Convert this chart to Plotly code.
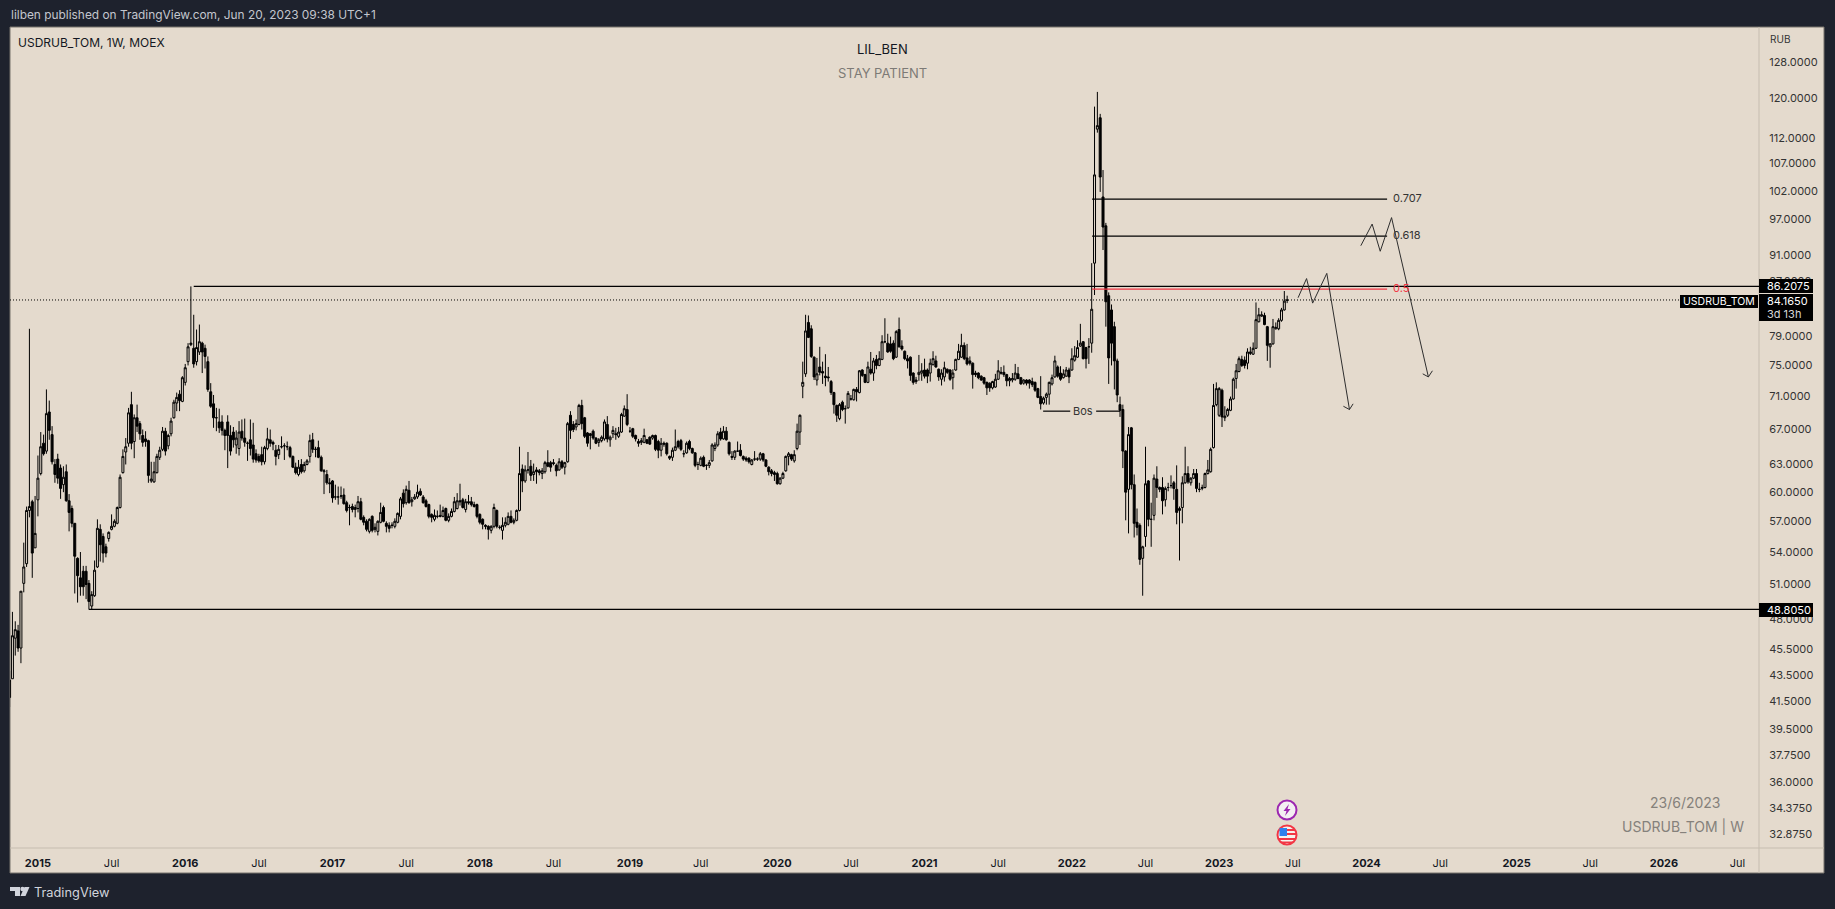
import pandas as pd
import plotly.graph_objects as go

# weekly USDRUB_TOM candles, last bar is the week of 2023-06-19
opens = [
    41.8, 43.2, 46.4, 47.0, 45.6, 51.1, 52.9, 58.1, 59.0, 54.4,
    59.2, 62.0, 65.4, 64.5, 69.1, 66.4, 63.0, 63.6, 62.6, 60.8,
    62.2, 59.1, 58.3, 56.8, 53.4, 51.6, 52.2, 52.2, 51.1, 49.1,
    50.0, 52.6, 56.2, 55.5, 54.5, 55.3, 56.2, 56.5, 56.8, 58.4,
    62.1, 64.4, 65.4, 70.0, 65.6, 68.4, 67.7, 66.3, 65.9, 65.7,
    61.2, 61.1, 62.1, 63.8, 64.7, 66.8, 65.1, 66.5, 68.4, 70.2,
    71.3, 70.4, 72.8, 75.5, 77.8, 77.3, 75.5, 76.8, 78.0, 77.3,
    75.5, 71.6, 70.1, 68.4, 67.9, 67.9, 66.9, 67.9, 66.3, 66.7,
    65.2, 64.8, 66.8, 66.0, 65.4, 65.8, 65.2, 64.2, 63.9, 64.1,
    63.3, 64.8, 65.8, 65.5, 64.6, 64.1, 65.0, 65.1, 65.0, 64.9,
    63.9, 62.7, 61.9, 63.0, 62.3, 63.0, 63.9, 65.8, 64.7, 64.9,
    63.8, 62.2, 61.9, 61.0, 61.2, 59.5, 59.5, 59.6, 59.7, 58.9,
    58.4, 58.5, 58.2, 58.3, 59.0, 57.4, 57.0, 56.0, 57.5, 56.2,
    56.0, 56.9, 58.4, 56.8, 56.6, 56.6, 56.5, 56.9, 57.5, 59.9,
    58.9, 60.2, 59.0, 59.3, 59.5, 60.1, 59.5, 59.1, 58.7, 57.7,
    57.2, 57.5, 57.6, 57.5, 58.3, 57.1, 57.5, 58.0, 58.3, 59.1,
    59.2, 58.2, 59.0, 59.0, 58.7, 58.7, 57.7, 57.2, 56.6, 56.5,
    56.1, 56.5, 58.1, 56.4, 56.1, 56.6, 56.7, 57.5, 56.9, 57.1,
    58.1, 62.5, 61.2, 62.4, 62.8, 61.9, 62.4, 62.3, 62.0, 62.2,
    63.2, 63.2, 63.2, 62.9, 62.4, 63.3, 62.7, 63.3, 68.7, 67.6,
    67.3, 67.6, 69.9, 68.4, 66.6, 66.5, 66.8, 66.0, 65.5, 65.7,
    65.9, 67.6, 65.8, 66.5, 66.5, 66.2, 66.7, 68.6, 69.4, 66.8,
    67.1, 66.3, 65.6, 65.5, 65.5, 65.8, 66.1, 66.0, 66.3, 65.6,
    64.6, 65.4, 65.4, 63.9, 63.8, 64.6, 65.6, 65.7, 64.2, 64.3,
    65.6, 64.8, 64.3, 63.0, 62.9, 63.8, 62.9, 62.9, 63.4, 64.8,
    65.2, 66.7, 65.9, 66.8, 65.5, 63.9, 63.8, 64.5, 64.6, 63.9,
    63.7, 63.7, 63.0, 63.6, 63.6, 63.6, 64.2, 63.5, 62.7, 62.3,
    62.1, 62.0, 60.9, 61.5, 62.3, 63.9, 64.1, 63.4, 64.8, 66.7,
    72.3, 73.9, 80.9, 80.0, 76.1, 73.1, 74.8, 74.2, 73.6, 73.5,
    72.9, 71.5, 69.9, 68.3, 70.3, 69.5, 69.6, 70.7, 70.6, 71.9,
    71.5, 74.4, 73.8, 72.8, 74.5, 74.0, 75.8, 75.0, 75.8, 78.2,
    78.0, 77.9, 78.0, 76.1, 79.9, 77.6, 76.9, 75.9, 76.1, 74.0,
    72.9, 73.8, 74.0, 74.4, 74.4, 74.0, 75.1, 75.6, 74.5, 73.2,
    73.5, 74.5, 74.4, 73.4, 74.4, 75.8, 76.1, 77.7, 76.0, 75.6,
    75.3, 74.0, 74.0, 73.6, 73.4, 72.8, 72.7, 72.1, 72.2, 73.2,
    74.1, 74.1, 73.8, 73.0, 73.1, 73.2, 73.9, 73.4, 72.7, 73.1,
    73.1, 72.9, 72.8, 72.0, 71.0, 70.2, 70.9, 71.3, 72.6, 73.5,
    74.8, 74.0, 73.4, 73.6, 74.4, 74.4, 75.7, 76.1, 77.6, 78.2,
    77.4, 77.5, 78.0, 89.8, 113.7, 116.0, 100.9, 95.9, 84.8, 82.7,
    80.3, 75.6, 70.0, 69.4, 64.5, 60.3, 67.2, 60.8, 56.9, 56.6,
    53.4, 55.5, 61.2, 57.2, 57.6, 61.4, 60.5, 60.5, 59.2, 60.5,
    60.7, 61.0, 60.3, 58.1, 58.4, 61.0, 62.0, 61.0, 61.5, 62.0,
    60.3, 60.4, 60.5, 62.0, 62.2, 64.9, 70.0, 68.7, 71.8, 68.4,
    68.7, 69.3, 70.7, 73.3, 74.2, 75.8, 75.7, 75.3, 76.6, 76.5,
    77.3, 81.0, 81.8, 81.9, 80.3, 77.5, 77.9, 80.0, 80.0, 81.2,
    82.7, 84.1,
]
highs = [
    43.8, 48.6, 47.8, 47.5, 50.4, 54.9, 58.5, 80.0, 59.2, 59.6,
    64.0, 66.7, 66.4, 71.9, 70.5, 67.4, 63.6, 64.2, 63.0, 62.8,
    63.0, 59.8, 58.6, 56.8, 53.5, 54.0, 52.7, 52.7, 51.4, 50.4,
    53.2, 57.2, 56.7, 55.8, 54.8, 56.0, 57.7, 57.2, 58.5, 61.9,
    64.7, 66.0, 69.6, 71.6, 68.8, 70.0, 68.0, 67.0, 66.8, 65.8,
    63.3, 63.3, 64.2, 65.0, 67.3, 67.2, 66.5, 68.4, 70.6, 71.5,
    71.8, 73.6, 75.2, 78.0, 86.2, 82.0, 79.9, 80.6, 78.2, 77.8,
    76.2, 72.7, 71.2, 69.6, 69.5, 68.7, 67.1, 68.7, 67.5, 67.3,
    66.9, 68.0, 68.2, 68.3, 65.6, 68.2, 67.8, 64.7, 64.2, 65.0,
    65.1, 67.2, 67.0, 65.7, 65.2, 65.2, 66.2, 65.4, 65.6, 65.1,
    64.0, 63.2, 63.5, 63.6, 63.3, 63.6, 66.4, 66.6, 65.0, 65.7,
    64.0, 62.5, 62.4, 61.5, 61.3, 60.8, 60.6, 60.6, 60.4, 59.1,
    58.7, 58.8, 58.7, 59.6, 59.4, 57.6, 57.2, 57.3, 57.6, 56.8,
    57.1, 58.9, 58.6, 57.0, 56.9, 56.9, 57.3, 57.9, 59.5, 60.3,
    60.7, 61.2, 59.5, 59.8, 60.8, 60.4, 59.7, 59.3, 58.8, 57.8,
    58.2, 58.1, 58.7, 58.5, 58.4, 57.8, 58.3, 59.5, 59.9, 60.9,
    59.4, 59.3, 59.7, 59.5, 59.0, 58.8, 57.8, 57.3, 56.7, 56.6,
    56.6, 58.8, 58.2, 56.6, 57.4, 57.4, 57.9, 58.1, 57.3, 58.2,
    65.0, 63.0, 62.9, 64.4, 63.5, 63.1, 62.7, 62.5, 62.6, 63.4,
    64.6, 63.4, 63.6, 63.1, 63.7, 63.5, 63.3, 67.9, 69.2, 68.0,
    68.2, 70.1, 70.6, 68.5, 66.7, 66.6, 67.0, 66.1, 66.0, 66.3,
    68.2, 68.6, 66.3, 67.4, 67.2, 67.3, 69.0, 69.9, 71.3, 67.3,
    67.2, 66.4, 65.9, 66.0, 67.1, 65.9, 66.2, 66.4, 66.4, 65.8,
    66.0, 65.6, 65.5, 64.0, 64.9, 67.0, 65.8, 65.9, 64.6, 65.6,
    65.8, 64.9, 64.4, 63.3, 63.9, 64.0, 63.0, 63.5, 65.4, 65.5,
    66.8, 67.2, 67.4, 67.3, 65.6, 64.5, 64.6, 65.6, 65.3, 64.0,
    63.9, 63.8, 63.6, 64.5, 63.8, 64.4, 64.3, 63.6, 62.8, 62.5,
    62.3, 62.2, 61.6, 62.2, 64.0, 64.4, 64.2, 64.6, 67.7, 68.8,
    75.5, 82.0, 81.9, 80.5, 76.2, 76.0, 77.5, 75.5, 76.5, 74.8,
    73.1, 71.6, 70.0, 70.2, 70.5, 69.9, 71.7, 71.2, 72.0, 72.2,
    74.4, 74.5, 73.9, 75.5, 76.8, 76.0, 76.4, 76.9, 79.1, 81.5,
    79.3, 78.9, 78.4, 79.8, 81.6, 78.4, 77.0, 76.4, 76.2, 74.1,
    73.5, 76.4, 75.3, 75.9, 74.6, 75.9, 76.9, 76.3, 74.6, 74.5,
    75.5, 74.6, 74.5, 74.5, 75.9, 77.9, 79.3, 78.1, 77.9, 76.2,
    75.4, 74.3, 74.1, 73.7, 73.5, 72.9, 72.8, 73.0, 73.9, 75.7,
    74.8, 75.0, 73.9, 73.5, 74.0, 75.2, 74.8, 73.5, 73.2, 73.2,
    73.2, 73.4, 72.9, 72.1, 73.6, 71.0, 71.5, 72.9, 73.8, 76.3,
    75.0, 74.9, 74.5, 74.8, 74.7, 77.3, 77.6, 78.4, 80.7, 78.3,
    77.5, 78.7, 89.8, 118.3, 121.4, 116.8, 105.8, 96.4, 85.3, 83.5,
    81.0, 75.9, 71.0, 70.0, 64.6, 67.3, 67.3, 61.9, 58.3, 56.8,
    54.6, 65.0, 61.3, 58.9, 61.9, 62.8, 60.6, 61.6, 60.6, 61.0,
    61.8, 61.2, 62.9, 58.5, 61.7, 65.0, 62.8, 61.6, 62.5, 62.5,
    61.0, 60.8, 62.1, 63.5, 64.9, 72.6, 72.8, 72.2, 72.0, 69.8,
    69.6, 71.0, 73.4, 75.2, 76.2, 76.3, 76.2, 77.3, 77.5, 78.1,
    83.8, 83.0, 82.5, 82.3, 80.4, 78.0, 81.4, 80.9, 81.5, 83.0,
    85.5, 84.8,
]
lows = [
    41.1, 43.2, 45.0, 45.3, 44.4, 50.3, 52.6, 57.4, 51.6, 54.4,
    57.5, 61.8, 64.0, 64.2, 65.8, 63.0, 61.0, 60.9, 59.3, 60.0,
    59.0, 56.0, 56.4, 50.2, 49.4, 50.0, 50.0, 49.7, 48.8, 48.8,
    49.9, 52.5, 53.1, 53.0, 53.5, 55.0, 56.1, 56.4, 56.7, 58.3,
    62.0, 63.0, 65.0, 64.7, 63.7, 66.7, 65.8, 65.0, 65.0, 61.0,
    61.0, 61.0, 62.0, 63.5, 64.5, 64.0, 64.7, 66.2, 68.3, 69.2,
    69.2, 70.3, 72.4, 75.0, 77.6, 74.7, 75.0, 76.4, 74.0, 74.6,
    71.6, 69.6, 67.2, 66.8, 66.6, 66.3, 64.6, 62.6, 64.0, 64.9,
    64.2, 64.0, 65.7, 65.0, 63.4, 64.0, 63.2, 63.2, 63.2, 62.9,
    63.0, 64.6, 65.0, 64.6, 62.9, 63.6, 64.8, 63.5, 64.6, 63.7,
    62.6, 61.9, 61.7, 62.0, 62.1, 62.9, 63.2, 64.3, 63.8, 63.7,
    62.2, 59.8, 60.8, 59.9, 58.9, 59.2, 58.7, 59.3, 58.7, 57.9,
    56.6, 57.9, 57.4, 57.9, 57.1, 56.6, 56.0, 55.8, 55.9, 55.9,
    55.6, 56.8, 56.9, 55.9, 55.9, 56.3, 56.3, 56.8, 57.2, 58.4,
    58.7, 58.8, 58.5, 59.2, 59.3, 59.6, 58.8, 58.4, 57.3, 56.9,
    57.0, 57.3, 57.4, 57.4, 57.0, 56.9, 57.4, 57.9, 58.2, 58.6,
    58.3, 57.9, 58.7, 58.5, 58.4, 57.3, 56.7, 56.2, 56.2, 55.2,
    55.8, 56.3, 56.3, 56.2, 55.2, 56.4, 56.6, 56.8, 56.7, 57.0,
    58.0, 60.0, 61.0, 62.0, 61.2, 61.2, 60.9, 61.8, 61.4, 62.0,
    62.7, 62.2, 62.9, 61.7, 62.3, 62.5, 61.9, 63.2, 65.9, 66.7,
    66.9, 67.5, 67.0, 66.0, 65.0, 64.7, 65.8, 65.3, 65.0, 65.5,
    65.7, 65.5, 65.0, 66.0, 65.8, 66.0, 66.6, 68.5, 67.4, 66.6,
    66.0, 65.6, 65.0, 65.2, 65.4, 65.3, 65.2, 65.8, 64.5, 63.7,
    63.9, 65.0, 64.0, 63.5, 63.4, 64.5, 64.8, 64.5, 63.8, 64.2,
    64.6, 64.2, 62.7, 62.4, 62.8, 62.7, 62.4, 62.6, 63.3, 64.5,
    65.0, 65.7, 65.8, 65.7, 64.0, 63.5, 63.5, 64.4, 63.9, 63.4,
    63.3, 63.1, 62.9, 63.4, 63.4, 63.4, 63.3, 62.7, 61.8, 61.7,
    61.2, 60.8, 60.8, 61.4, 62.2, 62.9, 63.4, 63.2, 64.6, 65.2,
    70.8, 73.5, 78.7, 76.0, 73.1, 72.4, 73.7, 72.6, 72.3, 72.9,
    71.2, 68.9, 67.9, 68.1, 69.2, 67.7, 69.5, 70.5, 70.5, 70.4,
    71.4, 73.5, 72.7, 72.7, 73.8, 73.0, 74.5, 74.9, 75.7, 78.0,
    76.7, 76.7, 75.7, 76.0, 77.4, 77.0, 75.7, 74.6, 73.0, 72.5,
    72.6, 73.0, 73.0, 73.3, 72.7, 72.9, 75.0, 74.7, 73.0, 72.4,
    72.9, 73.9, 73.0, 71.9, 74.3, 75.7, 76.0, 75.7, 75.0, 75.0,
    72.0, 73.5, 73.2, 73.0, 72.5, 71.2, 71.6, 71.9, 72.1, 73.1,
    73.8, 73.5, 72.3, 72.3, 72.8, 73.0, 73.2, 72.5, 72.5, 72.4,
    72.0, 72.2, 71.6, 70.8, 69.4, 70.0, 70.0, 70.0, 72.4, 73.4,
    73.4, 73.0, 73.3, 73.5, 72.7, 74.3, 75.5, 76.0, 77.5, 75.8,
    74.6, 75.2, 76.7, 84.9, 113.0, 101.8, 91.9, 80.3, 72.6, 75.0,
    71.9, 70.3, 68.5, 62.6, 57.1, 55.8, 60.3, 55.4, 55.6, 52.8,
    50.0, 54.5, 56.5, 54.5, 57.1, 59.4, 60.0, 57.7, 58.5, 60.1,
    60.4, 59.2, 56.7, 53.2, 56.8, 60.9, 60.9, 60.7, 61.4, 60.0,
    60.0, 60.2, 60.4, 61.9, 62.1, 64.8, 69.8, 68.5, 67.3, 68.0,
    68.5, 69.2, 70.6, 72.0, 74.1, 74.8, 74.6, 74.5, 76.4, 76.4,
    77.2, 80.9, 81.7, 80.5, 75.6, 74.7, 77.8, 79.9, 79.8, 81.0,
    82.6, 83.7,
]
closes = [
    43.1, 46.6, 47.1, 45.6, 50.4, 52.6, 58.1, 58.5, 53.9, 55.8,
    61.5, 65.0, 64.2, 68.9, 66.9, 63.3, 61.9, 61.5, 60.4, 61.6,
    59.1, 57.9, 56.8, 53.6, 51.8, 50.8, 50.8, 51.0, 49.5, 50.1,
    52.3, 56.3, 54.7, 53.9, 53.9, 55.9, 56.5, 57.0, 58.4, 61.6,
    63.9, 65.0, 69.0, 65.4, 68.4, 67.4, 66.5, 65.5, 65.6, 61.8,
    61.4, 62.2, 63.9, 64.6, 66.8, 64.5, 66.3, 68.0, 70.3, 70.9,
    70.5, 73.4, 74.7, 77.5, 78.0, 75.2, 77.4, 78.2, 76.8, 76.2,
    71.9, 69.8, 68.4, 68.4, 67.2, 66.9, 66.3, 66.3, 64.5, 65.8,
    66.0, 66.7, 66.0, 65.5, 65.4, 64.8, 63.6, 63.5, 63.4, 63.3,
    64.9, 65.9, 65.4, 65.3, 63.9, 64.7, 65.0, 65.1, 65.0, 63.9,
    62.7, 62.1, 62.7, 62.2, 63.0, 63.4, 65.7, 64.7, 64.7, 63.8,
    62.3, 62.3, 61.0, 60.9, 59.4, 59.5, 59.5, 59.6, 58.8, 58.1,
    58.4, 58.2, 58.4, 59.0, 57.2, 56.9, 56.2, 57.2, 56.1, 56.4,
    57.0, 57.9, 57.0, 56.5, 56.3, 56.6, 57.0, 57.8, 59.3, 58.8,
    60.3, 58.9, 59.2, 59.5, 60.0, 59.7, 58.9, 58.5, 57.5, 57.4,
    57.6, 57.5, 57.5, 58.1, 57.1, 57.5, 58.0, 59.0, 59.1, 59.0,
    58.4, 59.0, 58.9, 58.7, 58.5, 57.5, 56.9, 56.7, 56.5, 56.2,
    56.5, 58.4, 56.5, 56.4, 56.6, 56.9, 57.5, 56.9, 57.1, 58.1,
    62.0, 61.2, 62.4, 62.4, 61.8, 62.2, 62.2, 62.1, 62.3, 63.2,
    62.8, 62.7, 63.1, 62.3, 63.3, 62.7, 63.2, 67.7, 66.9, 67.0,
    67.7, 69.9, 67.7, 66.2, 65.4, 66.3, 66.0, 65.4, 65.8, 66.1,
    67.9, 65.9, 66.1, 66.9, 66.4, 66.7, 68.8, 69.5, 67.6, 66.8,
    66.2, 65.9, 65.4, 65.7, 66.3, 65.4, 65.3, 66.3, 64.7, 64.6,
    65.4, 65.3, 64.2, 63.7, 64.6, 65.0, 65.0, 64.7, 64.2, 65.4,
    64.8, 64.3, 62.9, 63.0, 63.7, 62.8, 62.9, 63.2, 65.2, 65.2,
    66.5, 65.9, 66.8, 65.8, 64.2, 63.8, 64.5, 64.5, 64.0, 63.6,
    63.5, 63.3, 63.5, 63.6, 63.6, 64.2, 63.5, 62.8, 62.2, 62.0,
    61.9, 60.9, 61.5, 62.0, 63.9, 64.2, 63.6, 64.1, 66.8, 68.7,
    72.8, 79.7, 78.8, 76.2, 73.5, 73.9, 74.1, 74.0, 73.4, 73.4,
    71.5, 70.0, 68.7, 70.0, 69.4, 69.5, 71.4, 70.7, 71.9, 71.6,
    74.3, 73.7, 72.8, 74.8, 74.0, 75.6, 75.0, 75.9, 78.2, 78.2,
    76.8, 76.9, 75.9, 79.6, 77.5, 77.2, 75.9, 75.6, 73.7, 72.8,
    73.1, 74.1, 74.3, 73.6, 73.6, 75.3, 75.9, 74.8, 73.5, 74.0,
    74.7, 74.1, 73.2, 74.0, 75.8, 76.9, 77.7, 75.9, 75.2, 75.3,
    73.8, 73.8, 73.4, 73.1, 72.7, 72.1, 72.1, 72.9, 73.2, 74.3,
    74.0, 73.8, 73.0, 73.3, 73.3, 74.0, 73.3, 72.6, 73.1, 72.7,
    72.7, 72.5, 71.8, 70.9, 70.1, 70.8, 71.3, 72.8, 73.4, 75.6,
    73.6, 73.2, 73.9, 74.4, 73.5, 75.9, 76.3, 77.4, 78.0, 75.9,
    75.9, 77.5, 82.8, 104.9, 114.4, 104.5, 95.7, 83.9, 76.0, 78.0,
    75.6, 71.2, 69.3, 64.5, 60.0, 66.4, 60.8, 56.8, 56.4, 53.3,
    54.5, 60.9, 57.2, 57.2, 61.5, 60.5, 60.3, 59.1, 60.4, 60.5,
    60.7, 60.4, 57.9, 58.3, 61.0, 62.0, 61.1, 61.5, 62.0, 60.4,
    60.3, 60.5, 62.0, 62.4, 64.7, 69.9, 72.0, 72.0, 68.5, 68.6,
    69.4, 70.7, 73.2, 74.3, 75.9, 75.0, 75.0, 76.8, 76.8, 77.3,
    81.3, 82.0, 82.0, 80.6, 77.7, 77.9, 80.3, 80.2, 81.2, 82.7,
    84.0, 84.165,
]

price_ticks = [128, 120, 112, 107, 102, 97, 91, 87, 83, 79, 75, 71, 67, 63, 60, 57, 54, 51, 48,
               45.5, 43.5, 41.5, 39.5, 37.75, 36, 34.375, 32.875]
year_ticks = ["2015-01-05", "2016-01-04", "2017-01-02", "2018-01-01", "2019-01-07", "2020-01-06",
              "2021-01-04", "2022-01-03", "2023-01-02", "2024-01-01", "2025-01-06", "2026-01-05"]
july_ticks = ["2015-07-06", "2016-07-04", "2017-07-03", "2018-07-02", "2019-07-01", "2020-07-06",
              "2021-07-05", "2022-07-04", "2023-07-03", "2024-07-01", "2025-07-07", "2026-07-06"]

# hand drawn levels and arrows on the chart
resistance = 86.2075
support = 48.805
last_price = 84.165
fib_start, fib_end = "2022-02-22", "2024-02-21"
fib_levels = [100.5, 94.18, 85.79]
bos_level = 69.2
path_a_x = ["2023-07-16", "2023-08-06", "2023-08-21", "2023-09-25", "2023-11-20"]
path_a_y = [84.5, 87.4, 83.7, 88.2, 69.4]
head_a_x = ["2023-11-05", "2023-11-20", "2023-11-29"]
head_a_y = [69.8, 69.4, 70.1]
path_b_x = ["2023-12-18", "2024-01-15", "2024-02-04", "2024-03-03", "2024-06-02"]
path_b_y = [92.6, 96.2, 91.7, 97.3, 73.5]
head_b_x = ["2024-05-19", "2024-06-02", "2024-06-12"]
head_b_y = [73.9, 73.5, 74.3]

assert len(opens) == len(highs) == len(lows) == len(closes), (len(opens), len(highs), len(lows), len(closes))

BG = "#e4dacd"
DARK = "#1e222d"
INK = "#131722"
EDGE = "#c6bdb0"
W, H = 1835, 909
x_start, x_end = "2014-10-28", "2026-08-28"


def px(x):
    return x / W


def py(y):
    return 1 - y / H


def line(x, y, color="black", width=1.2, dash="solid"):
    return go.Scatter(x=x, y=y, mode="lines", line=dict(color=color, width=width, dash=dash),
                      hoverinfo="skip", showlegend=False)


dates = pd.date_range(end="2023-06-19", periods=len(opens), freq="7D")

fig = go.Figure()
fig.add_trace(go.Candlestick(x=dates, open=opens, high=highs, low=lows, close=closes,
                             increasing=dict(line=dict(color="black", width=1), fillcolor=BG),
                             decreasing=dict(line=dict(color="black", width=1), fillcolor="black"),
                             showlegend=False, hoverinfo="skip"))
fig.add_trace(line([x_start, "2026-02-14"], [last_price, last_price], width=1, dash="1px,2px"))
fig.add_trace(line(["2016-01-25", x_end], [resistance, resistance]))
fig.add_trace(line(["2015-05-11", x_end], [support, support]))
fig.add_trace(line([fib_start, fib_end], [fib_levels[0]] * 2))
fig.add_trace(line([fib_start, fib_end], [fib_levels[1]] * 2))
fig.add_trace(line([fib_start, fib_end], [fib_levels[2]] * 2, color="#f23645"))
fig.add_trace(line(["2021-10-24", "2021-12-30", None, "2022-03-04", "2022-05-02"],
                   [bos_level, bos_level, None, bos_level, bos_level]))
for xs, ys in [(path_a_x, path_a_y), (head_a_x, head_a_y), (path_b_x, path_b_y), (head_b_x, head_b_y)]:
    fig.add_trace(line(xs, ys, color="#2e2e2e", width=1))

shapes = [
    # chart panel
    dict(type="rect", xref="paper", yref="paper", x0=px(10), x1=px(1824), y0=py(27), y1=py(873),
         fillcolor=BG, line=dict(color="#77736c", width=1), layer="below"),
    dict(type="line", xref="paper", yref="paper", x0=px(10), x1=px(1824), y0=py(848), y1=py(848),
         line=dict(color=EDGE, width=1), layer="below"),
    dict(type="line", xref="paper", yref="paper", x0=px(1759), x1=px(1759), y0=py(27), y1=py(873),
         line=dict(color=EDGE, width=1), layer="below"),
]


def box(x0, y0, x1, y1, color="black"):
    return dict(type="rect", xref="paper", yref="paper", x0=px(x0), x1=px(x1), y0=py(y0), y1=py(y1),
                fillcolor=color, line=dict(width=0), layer="above")


def poly(points, color):
    path = "M" + " L".join(f"{px(a):.5f},{py(b):.5f}" for a, b in points) + " Z"
    return dict(type="path", xref="paper", yref="paper", path=path, fillcolor=color,
                line=dict(width=0), layer="above")


def ring(cx, cy, r, color, fill):
    return dict(type="circle", xref="paper", yref="paper", x0=px(cx - r), x1=px(cx + r),
                y0=py(cy - r), y1=py(cy + r), fillcolor=fill, line=dict(color=color, width=2), layer="above")


shapes += [
    box(1759, 279, 1813, 293),
    box(1759, 294, 1813, 321),
    box(1759, 603, 1813, 617),
    box(1680, 295, 1758, 308),
    # purple event marker
    ring(1287, 810, 9.5, "#9c27b0", "#f3eef2"),
    poly([(1289, 804), (1283.5, 811), (1286.5, 811), (1285, 816), (1290.5, 809), (1287.5, 809)], "#9c27b0"),
    # flag marker
    ring(1287, 835, 9.5, "#f23645", "#f6f2ee"),
    box(1287, 829, 1295, 831, "#f23645"),
    box(1287, 833, 1296, 835, "#f23645"),
    box(1279, 838, 1295, 840, "#f23645"),
    box(1281, 841.5, 1293, 843, "#f23645"),
    box(1279.5, 828, 1287, 836, "#2f80ed"),
    # TradingView logo
    poly([(10, 887), (20, 887), (20, 896), (15, 896), (15, 891), (10, 891)], "#d1d4dc"),
    ring(22.5, 889, 1.2, "#d1d4dc", "#d1d4dc"),
    poly([(24.5, 887), (29.5, 887), (25.5, 896), (20.5, 896)], "#d1d4dc"),
]


def text(x, y, s, size=11, color=INK, anchor="left", family="Inter"):
    return dict(xref="paper", yref="paper", x=px(x), y=py(y), text=s, showarrow=False, xanchor=anchor,
                yanchor="middle", font=dict(size=size, color=color, family=family))


annotations = [
    text(9, 15, "lilben published on TradingView.com, Jun 20, 2023 09:38 UTC+1", 11.9, "#c3c6ce"),
    text(16, 42, "USDRUB_TOM, 1W, MOEX", 12, INK),
    text(882, 49, "LIL_BEN", 13, INK, "center"),
    text(882, 73, "STAY PATIENT", 13, "#7d7a76", "center"),
    text(1768, 39, "RUB", 10, "#333333"),
    text(1391, 198, "0.707", 11, "#333333"),
    text(1391, 235, "0.618", 11, "#333333"),
    text(1391, 288, "0.5", 11, "#f23645"),
    text(1083, 411, "Bos", 11, "#333333", "center"),
    text(1685, 802, "23/6/2023", 14, "#85817b", "center"),
    text(1746, 826, "USDRUB_TOM | W", 14, "#85817b", "right"),
    text(1765, 286, "86.2075", 11, "white"),
    text(1765, 301, "84.1650", 11, "white"),
    text(1765, 313.5, "3d 13h", 11, "#d8d8d8"),
    text(1765, 610, "48.8050", 11, "white"),
    text(1719, 301.5, "USDRUB_TOM", 10.5, "white", "center"),
    text(32, 892, "TradingView", 12.8, "#d1d4dc"),
]

fig.update_layout(
    width=W, height=H, margin=dict(l=0, r=0, t=0, b=0), autosize=False,
    paper_bgcolor=DARK, plot_bgcolor="rgba(0,0,0,0)", showlegend=False,
    shapes=shapes, annotations=annotations, hovermode=False,
    boxgap=0.3, boxgroupgap=0,
    xaxis=dict(type="date", domain=[px(10), px(1759)], range=[x_start, x_end], rangeslider=dict(visible=False),
               showgrid=False, zeroline=False, showline=False, ticks="outside", ticklen=0, ticklabelstandoff=5,
               tickmode="array", tickvals=year_ticks + july_ticks,
               ticktext=[f"<b>{v[:4]}</b>" for v in year_ticks] + ["Jul"] * len(july_ticks),
               tickfont=dict(family="Inter", size=11, color=INK), tickangle=0),
    yaxis=dict(type="log", side="right", domain=[py(848), py(27)],
               range=[1.50607, 2.13386],
               showgrid=False, zeroline=False, showline=False, ticks="outside", ticklen=0, ticklabelstandoff=7,
               tickmode="array", tickvals=price_ticks, ticktext=[f"{v:.4f}" for v in price_ticks],
               tickfont=dict(family="Inter", size=11, color="#333333")),
)

fig.write_html("out.html", config=dict(displayModeBar=False),
               post_script="document.body.style.margin='0';document.body.style.background='#1e222d';")
